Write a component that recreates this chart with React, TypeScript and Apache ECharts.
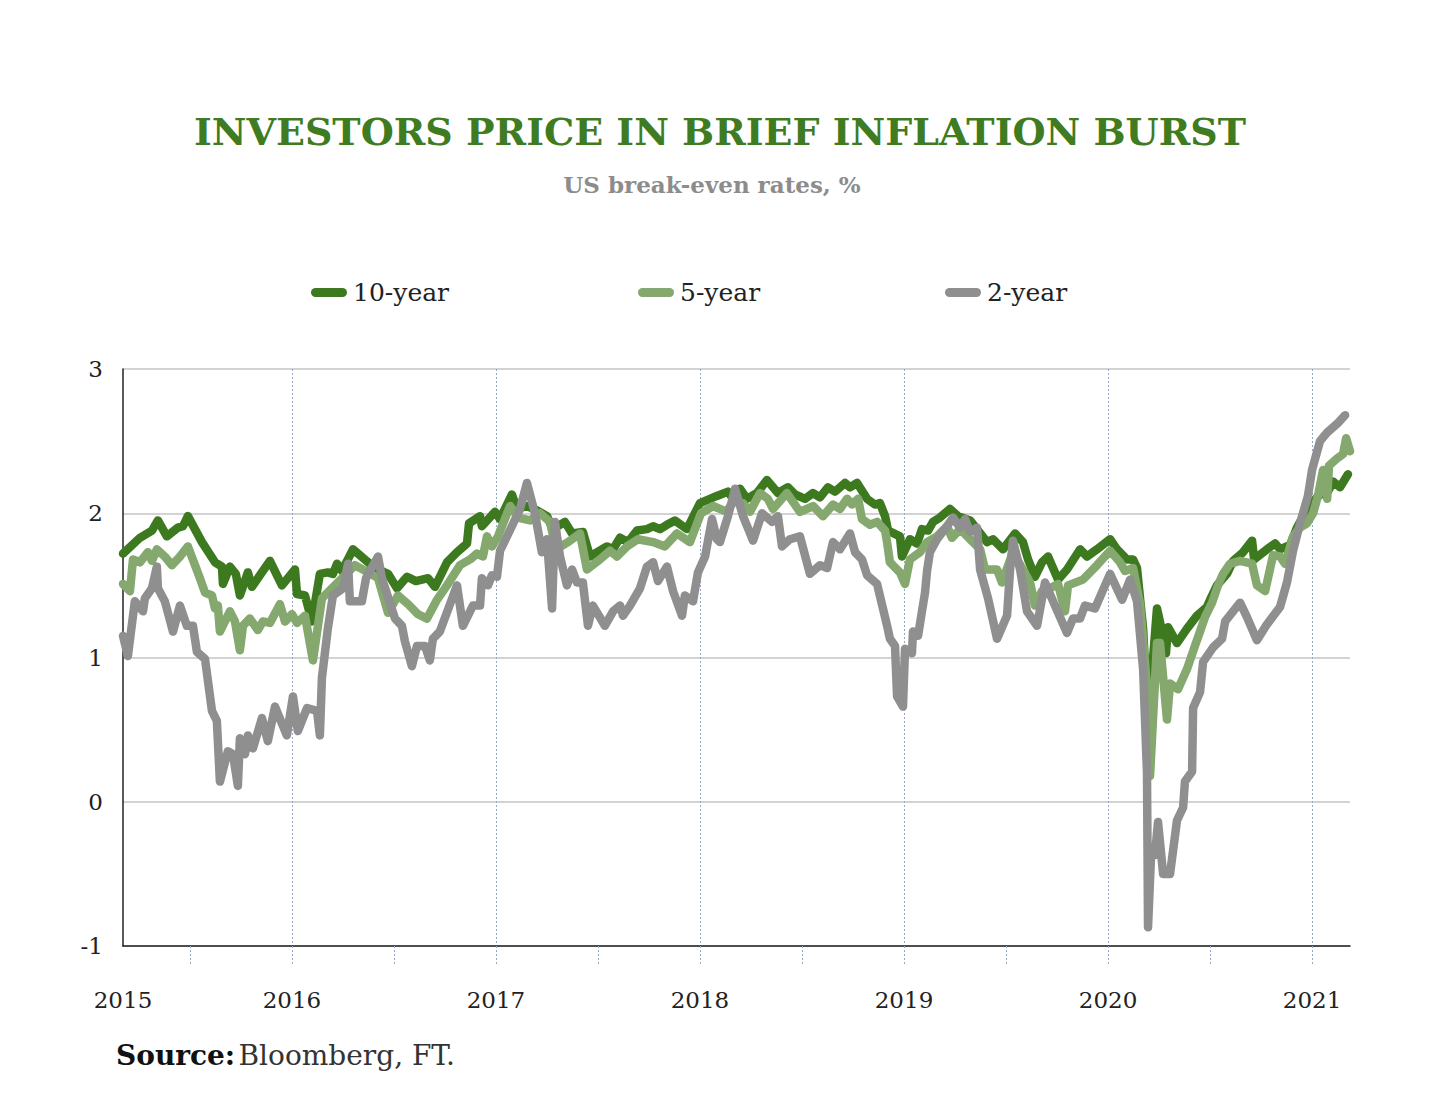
import React, { useEffect, useRef } from "react";
import * as echarts from "echarts";

// ---------- data (x = decimal year, y = break-even rate %) ----------
const xStart = 2015.172;
const xEnd = 2021.186;

const tenYear: [number, number][] = [
  [2015.172,1.72],[2015.255,1.83],[2015.314,1.88],[2015.343,1.95],[2015.387,1.84],[2015.441,1.90],[2015.466,1.91],[2015.490,1.98],[2015.559,1.80],[2015.623,1.66],[2015.657,1.63],[2015.662,1.51],[2015.696,1.63],[2015.725,1.58],[2015.745,1.43],[2015.784,1.59],[2015.804,1.49],[2015.892,1.67],[2015.951,1.50],
  [2016.015,1.61],[2016.025,1.44],[2016.064,1.43],[2016.098,1.25],[2016.137,1.58],[2016.176,1.59],[2016.201,1.58],[2016.221,1.65],[2016.245,1.60],[2016.299,1.75],[2016.373,1.66],[2016.422,1.61],[2016.471,1.58],[2016.515,1.48],[2016.564,1.56],[2016.608,1.53],[2016.667,1.55],[2016.701,1.49],[2016.760,1.66],[2016.809,1.73],[2016.858,1.79],[2016.868,1.93],[2016.922,1.98],[2016.931,1.91],[2016.995,2.01],
  [2017.020,1.96],[2017.078,2.13],[2017.103,2.03],[2017.152,2.05],[2017.201,2.02],[2017.250,1.98],[2017.279,1.89],[2017.338,1.94],[2017.373,1.86],[2017.426,1.87],[2017.461,1.70],[2017.544,1.77],[2017.574,1.75],[2017.608,1.83],[2017.647,1.80],[2017.691,1.88],[2017.740,1.89],[2017.770,1.91],[2017.804,1.89],[2017.838,1.92],[2017.877,1.95],[2017.936,1.89],
  [2018.000,2.07],[2018.083,2.12],[2018.137,2.15],[2018.162,2.10],[2018.196,2.17],[2018.230,2.10],[2018.279,2.14],[2018.328,2.23],[2018.382,2.14],[2018.431,2.18],[2018.466,2.13],[2018.515,2.10],[2018.554,2.14],[2018.588,2.11],[2018.627,2.18],[2018.662,2.15],[2018.711,2.21],[2018.735,2.18],[2018.770,2.21],[2018.819,2.10],[2018.858,2.06],[2018.882,2.07],[2018.907,1.98],[2018.922,1.88],[2018.980,1.84],[2018.990,1.70],
  [2019.029,1.82],[2019.064,1.79],[2019.088,1.89],[2019.118,1.88],[2019.142,1.94],[2019.176,1.97],[2019.225,2.03],[2019.265,1.98],[2019.324,1.95],[2019.358,1.89],[2019.407,1.80],[2019.436,1.82],[2019.485,1.75],[2019.544,1.86],[2019.583,1.80],[2019.608,1.68],[2019.642,1.56],[2019.676,1.66],[2019.706,1.70],[2019.755,1.54],[2019.799,1.61],[2019.863,1.75],[2019.897,1.70],[2019.946,1.75],
  [2020.010,1.82],[2020.044,1.75],[2020.093,1.68],[2020.123,1.68],[2020.142,1.62],[2020.172,1.20],[2020.196,0.55],[2020.240,1.34],[2020.265,1.18],[2020.284,1.03],[2020.294,1.21],[2020.338,1.10],[2020.387,1.20],[2020.436,1.29],[2020.485,1.35],[2020.500,1.40],[2020.534,1.50],[2020.583,1.58],[2020.613,1.67],[2020.662,1.73],[2020.706,1.81],[2020.716,1.68],[2020.779,1.75],[2020.819,1.79],[2020.843,1.75],[2020.892,1.78],[2020.926,1.90],[2020.956,1.98],
  [2021.005,2.08],[2021.039,2.13],[2021.074,2.14],[2021.103,2.22],[2021.137,2.18],[2021.176,2.27],
];

const fiveYear: [number, number][] = [
  [2015.172,1.51],[2015.206,1.46],[2015.221,1.68],[2015.255,1.66],[2015.294,1.73],[2015.314,1.67],[2015.338,1.75],[2015.377,1.70],[2015.412,1.64],[2015.451,1.70],[2015.490,1.77],[2015.525,1.64],[2015.549,1.55],[2015.574,1.45],[2015.608,1.43],[2015.623,1.34],[2015.637,1.36],[2015.647,1.18],[2015.696,1.32],[2015.721,1.25],[2015.745,1.05],[2015.760,1.22],[2015.794,1.27],[2015.833,1.19],[2015.858,1.25],[2015.892,1.24],[2015.941,1.37],[2015.966,1.25],
  [2016.000,1.30],[2016.025,1.24],[2016.064,1.29],[2016.103,0.98],[2016.147,1.41],[2016.211,1.50],[2016.260,1.57],[2016.309,1.64],[2016.373,1.59],[2016.422,1.55],[2016.471,1.31],[2016.520,1.43],[2016.569,1.37],[2016.618,1.30],[2016.662,1.27],[2016.711,1.40],[2016.760,1.50],[2016.824,1.64],[2016.873,1.68],[2016.907,1.72],[2016.936,1.70],[2016.956,1.84],[2016.980,1.77],
  [2017.010,1.84],[2017.069,2.05],[2017.108,1.97],[2017.167,1.95],[2017.216,2.00],[2017.265,1.94],[2017.294,1.75],[2017.353,1.80],[2017.412,1.86],[2017.446,1.61],[2017.510,1.68],[2017.559,1.74],[2017.593,1.70],[2017.642,1.77],[2017.696,1.82],[2017.770,1.80],[2017.828,1.77],[2017.887,1.86],[2017.951,1.80],
  [2018.005,2.00],[2018.064,2.05],[2018.132,2.01],[2018.162,2.08],[2018.211,2.07],[2018.245,2.01],[2018.294,2.14],[2018.333,2.10],[2018.358,2.03],[2018.426,2.14],[2018.490,2.01],[2018.554,2.05],[2018.603,1.98],[2018.652,2.06],[2018.686,2.03],[2018.721,2.10],[2018.745,2.06],[2018.775,2.10],[2018.794,1.96],[2018.833,1.92],[2018.868,1.94],[2018.907,1.88],[2018.917,1.80],[2018.931,1.66],[2018.980,1.59],
  [2019.005,1.51],[2019.029,1.68],[2019.078,1.73],[2019.113,1.80],[2019.162,1.84],[2019.211,1.91],[2019.235,1.83],[2019.275,1.89],[2019.324,1.82],[2019.373,1.75],[2019.397,1.61],[2019.456,1.61],[2019.480,1.52],[2019.534,1.73],[2019.583,1.61],[2019.618,1.52],[2019.642,1.36],[2019.676,1.46],[2019.716,1.48],[2019.755,1.51],[2019.789,1.32],[2019.804,1.50],[2019.877,1.54],[2019.946,1.64],
  [2020.010,1.74],[2020.059,1.66],[2020.083,1.60],[2020.123,1.62],[2020.157,1.37],[2020.191,0.80],[2020.206,0.18],[2020.240,1.10],[2020.255,1.10],[2020.289,0.57],[2020.304,0.82],[2020.343,0.78],[2020.387,0.92],[2020.426,1.08],[2020.451,1.18],[2020.475,1.28],[2020.510,1.38],[2020.539,1.50],[2020.564,1.58],[2020.598,1.65],[2020.647,1.67],[2020.706,1.65],[2020.730,1.50],[2020.770,1.46],[2020.809,1.71],[2020.843,1.70],[2020.868,1.65],[2020.907,1.84],[2020.941,1.90],[2020.975,1.93],
  [2021.005,2.00],[2021.029,2.12],[2021.054,2.30],[2021.074,2.10],[2021.083,2.33],[2021.123,2.38],[2021.152,2.41],[2021.167,2.52],[2021.186,2.43],
];

const twoYear: [number, number][] = [
  [2015.172,1.15],[2015.196,1.01],[2015.230,1.39],[2015.270,1.32],[2015.279,1.41],[2015.314,1.48],[2015.338,1.63],[2015.343,1.48],[2015.377,1.39],[2015.417,1.18],[2015.451,1.36],[2015.485,1.22],[2015.515,1.22],[2015.534,1.04],[2015.574,0.99],[2015.608,0.63],[2015.632,0.56],[2015.647,0.14],[2015.686,0.35],[2015.711,0.33],[2015.735,0.11],[2015.745,0.44],[2015.770,0.33],[2015.784,0.46],[2015.809,0.37],[2015.853,0.58],[2015.882,0.42],[2015.917,0.66],[2015.975,0.46],
  [2016.005,0.73],[2016.029,0.49],[2016.074,0.65],[2016.123,0.63],[2016.137,0.46],[2016.147,0.86],[2016.176,1.20],[2016.201,1.43],[2016.250,1.48],[2016.275,1.65],[2016.284,1.39],[2016.343,1.39],[2016.363,1.55],[2016.422,1.70],[2016.441,1.55],[2016.505,1.27],[2016.539,1.22],[2016.554,1.11],[2016.588,0.94],[2016.613,1.08],[2016.652,1.08],[2016.676,0.98],[2016.691,1.13],[2016.725,1.18],[2016.809,1.50],[2016.838,1.22],[2016.887,1.36],[2016.922,1.36],[2016.931,1.55],[2016.961,1.50],[2016.980,1.57],
  [2017.005,1.56],[2017.020,1.74],[2017.078,1.91],[2017.118,2.03],[2017.152,2.21],[2017.191,2.00],[2017.225,1.73],[2017.250,1.82],[2017.275,1.34],[2017.289,1.94],[2017.314,1.70],[2017.348,1.50],[2017.373,1.61],[2017.397,1.52],[2017.426,1.52],[2017.451,1.22],[2017.475,1.36],[2017.534,1.22],[2017.574,1.32],[2017.608,1.36],[2017.623,1.29],[2017.657,1.36],[2017.706,1.48],[2017.740,1.63],[2017.770,1.66],[2017.794,1.53],[2017.838,1.63],[2017.868,1.46],[2017.912,1.29],[2017.926,1.43],[2017.966,1.39],[2017.990,1.59],
  [2018.025,1.70],[2018.059,1.96],[2018.083,1.82],[2018.098,1.80],[2018.137,1.98],[2018.172,2.17],[2018.211,1.98],[2018.260,1.81],[2018.304,2.00],[2018.353,1.94],[2018.382,1.98],[2018.402,1.77],[2018.441,1.82],[2018.490,1.84],[2018.539,1.58],[2018.588,1.64],[2018.623,1.62],[2018.652,1.80],[2018.686,1.75],[2018.735,1.86],[2018.760,1.73],[2018.794,1.68],[2018.819,1.57],[2018.868,1.51],[2018.917,1.22],[2018.931,1.13],[2018.956,1.08],[2018.966,0.73],[2018.995,0.66],
  [2019.005,1.06],[2019.039,1.03],[2019.044,1.18],[2019.069,1.15],[2019.088,1.32],[2019.103,1.45],[2019.113,1.60],[2019.127,1.73],[2019.162,1.82],[2019.211,1.91],[2019.240,1.97],[2019.275,1.90],[2019.299,1.96],[2019.324,1.87],[2019.358,1.90],[2019.373,1.61],[2019.412,1.41],[2019.456,1.13],[2019.505,1.29],[2019.520,1.61],[2019.534,1.81],[2019.569,1.61],[2019.603,1.32],[2019.652,1.22],[2019.691,1.52],[2019.740,1.36],[2019.799,1.17],[2019.828,1.27],[2019.863,1.27],[2019.887,1.36],[2019.936,1.34],
  [2020.010,1.58],[2020.069,1.40],[2020.108,1.54],[2020.142,1.39],[2020.172,0.92],[2020.191,0.20],[2020.196,-0.87],[2020.211,-0.37],[2020.230,-0.37],[2020.245,-0.14],[2020.270,-0.50],[2020.304,-0.50],[2020.338,-0.13],[2020.368,-0.04],[2020.377,0.14],[2020.412,0.21],[2020.417,0.65],[2020.451,0.76],[2020.466,0.97],[2020.515,1.07],[2020.559,1.13],[2020.574,1.25],[2020.647,1.38],[2020.681,1.28],[2020.730,1.12],[2020.779,1.23],[2020.843,1.35],[2020.877,1.52],[2020.907,1.74],[2020.941,1.93],[2020.980,2.12],
  [2021.000,2.30],[2021.039,2.50],[2021.074,2.56],[2021.123,2.62],[2021.162,2.68],
];

const seriesNames = ["10-year", "5-year", "2-year"];
const yearLines = [2016, 2017, 2018, 2019, 2020, 2021];
const halfYearTicks = [2015.5, 2016, 2016.5, 2017, 2017.5, 2018, 2018.5, 2019, 2019.5, 2020, 2020.5, 2021];
const yearLabelValues = [xStart, 2016, 2017, 2018, 2019, 2020, 2021];

const titleText = "INVESTORS PRICE IN BRIEF INFLATION BURST";
const subtitleText = "US break-even rates, %";

// ---------- styles ----------
const FONT = "'DejaVu Serif', serif";
const C10 = "#3d7a1f";
const C5 = "#84a86d";
const C2 = "#8f8f8f";
const TITLE_C = "#3f7b20";
const DOT_C = "#97a6c4";
const legendIcon = "path://M5,0 H35 A5,5 0 0 1 35,10 H5 A5,5 0 0 1 5,0 Z";

function legendAt(name: string, left: number) {
  return {
    data: [name],
    left,
    top: 275,
    orient: "horizontal",
    icon: legendIcon,
    itemWidth: 38,
    itemHeight: 9,
    selectedMode: false,
    textStyle: { fontFamily: FONT, fontSize: 25, color: "#222" },
  };
}

export default function App() {
  const ref = useRef<HTMLDivElement>(null);
  useEffect(() => {
    const chart = echarts.init(ref.current!, null, { renderer: "svg" });
    const lineSeries = (name: string, data: [number, number][], color: string, z: number) => ({
      name,
      type: "line",
      data,
      xAxisIndex: 0,
      yAxisIndex: 0,
      showSymbol: false,
      symbol: "none",
      z,
      itemStyle: { color },
      lineStyle: { color, width: 8.5, join: "round", cap: "round" },
    });
    chart.setOption({
      animation: false,
      backgroundColor: "#ffffff",
      grid: { left: 123, right: 90, top: 369, height: 577, containLabel: false },
      legend: [
        legendAt(seriesNames[0], 306),
        legendAt(seriesNames[1], 633),
        legendAt(seriesNames[2], 940),
      ],
      xAxis: [
        {
          type: "value",
          min: xStart,
          max: xEnd,
          position: "bottom",
          axisLine: { show: true, onZero: false, lineStyle: { color: "#222", width: 1.5 } },
          axisTick: {
            show: true,
            length: 19,
            customValues: halfYearTicks,
            lineStyle: { color: DOT_C, type: [2, 2], width: 1 },
          },
          splitLine: { show: false },
          axisLabel: {
            show: true,
            customValues: yearLabelValues,
            margin: 42,
            fontFamily: FONT,
            fontSize: 23,
            color: "#222",
            formatter: (v: number) => String(Math.floor(v + 1e-6)),
          },
        },
        {
          type: "value",
          min: xStart,
          max: xEnd,
          position: "top",
          axisLine: { show: false },
          axisTick: { show: false, customValues: yearLines },
          axisLabel: { show: false },
          splitLine: { show: true, lineStyle: { color: DOT_C, type: [2, 2], width: 1 } },
        },
      ],
      yAxis: {
        type: "value",
        min: -1,
        max: 3,
        interval: 1,
        axisLine: { show: true, lineStyle: { color: "#222", width: 1.5 } },
        axisTick: { show: false },
        axisLabel: { margin: 20, fontFamily: FONT, fontSize: 23, color: "#222" },
        splitLine: { show: true, lineStyle: { color: "#c4c4c4", width: 1.5 } },
      },
      series: [
        lineSeries(seriesNames[0], tenYear, C10, 2),
        lineSeries(seriesNames[1], fiveYear, C5, 3),
        lineSeries(seriesNames[2], twoYear, C2, 4),
      ],
      graphic: [
        {
          type: "text",
          x: 720,
          y: 131,
          style: {
            text: titleText,
            fill: TITLE_C,
            font: `bold 38px ${FONT}`,
            textAlign: "center",
            textVerticalAlign: "middle",
          },
        },
        {
          type: "text",
          x: 712,
          y: 184,
          style: {
            text: subtitleText,
            fill: "#8c8c8c",
            font: `bold 23px ${FONT}`,
            textAlign: "center",
            textVerticalAlign: "middle",
          },
        },
        {
          type: "text",
          x: 116,
          y: 1055,
          style: {
            text: "{b|Source:} {n|Bloomberg, FT.}",
            textVerticalAlign: "middle",
            rich: {
              b: { fontFamily: FONT, fontWeight: "bold", fontSize: 28, fill: "#111" },
              n: { fontFamily: FONT, fontWeight: "normal", fontSize: 28, fill: "#333" },
            },
          },
        },
      ],
    });
    return () => chart.dispose();
  }, []);
  return (
    <div
      ref={ref}
      style={{ position: "fixed", left: 0, top: 0, width: 1440, height: 1107, background: "#fff" }}
    />
  );
}
